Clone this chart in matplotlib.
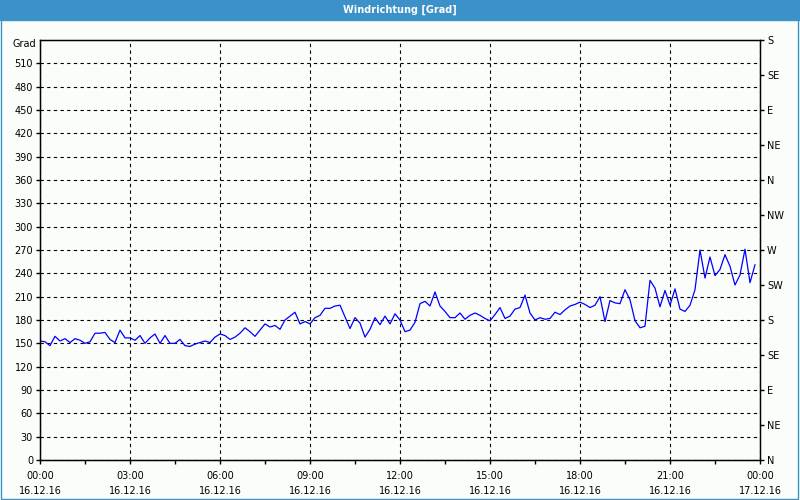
import numpy as np
import matplotlib
matplotlib.use("Agg")
import matplotlib.pyplot as plt
from matplotlib.ticker import MultipleLocator, FixedLocator

# ── Data: wind direction, 10-minute samples on 16.12.16 ─────────────────────
direction = [
    153, 152, 147, 159, 153, 156, 151, 156, 154, 150, 152, 163, 163, 164, 155, 151,
    167, 157, 157, 154, 160, 150, 157, 162, 150, 160, 150, 150, 155, 147, 146, 149,
    151, 153, 151, 158, 162, 160, 155, 158, 163, 170, 165, 159, 167, 175, 171, 173,
    168, 180, 185, 190, 175, 178, 175, 183, 186, 195, 195, 198, 199, 184, 169, 183,
    176, 158, 168, 183, 174, 185, 175, 188, 180, 165, 167, 177, 201, 204, 198, 216,
    198, 191, 183, 183, 189, 181, 186, 189, 186, 182, 179, 187, 196, 182, 185, 194,
    196, 212, 189, 180, 183, 181, 182, 190, 187, 193, 198, 200, 203, 200, 196, 199,
    210, 178, 205, 202, 201, 219, 206, 179, 170, 172, 231, 221, 197, 218, 199, 220,
    194, 191, 199, 219, 270, 234, 261, 237, 245, 264, 249, 225, 238, 271, 228, 251,
]
hours = np.arange(len(direction)) / 6.0

x_major = [0, 3, 6, 9, 12, 15, 18, 21, 24]
x_labels = ["00:00\n16.12.16", "03:00\n16.12.16", "06:00\n16.12.16",
            "09:00\n16.12.16", "12:00\n16.12.16", "15:00\n16.12.16",
            "18:00\n16.12.16", "21:00\n16.12.16", "00:00\n17.12.16"]
compass_labels = ["N", "NE", "E", "SE", "S", "SW", "W", "NW",
                  "N", "NE", "E", "SE", "S"]

BLUE_BAR = "#3c91c8"
BG = "#fbfdfb"

plt.rcParams["font.family"] = ["DejaVu Sans"]
plt.rcParams["font.size"] = 7

fig = plt.figure(figsize=(8, 5), dpi=100, facecolor=BG)

# title bar + window frame
fig.patches.append(plt.Rectangle((0, 0.96), 1, 0.04, transform=fig.transFigure,
                                 color=BLUE_BAR, zorder=0))
fig.patches.append(plt.Rectangle((0.001, 0.002), 0.997, 0.996, transform=fig.transFigure,
                                 fill=False, edgecolor=BLUE_BAR, lw=1, zorder=0))
fig.text(0.5, 0.98, "Windrichtung [Grad]", color="white", fontweight="bold",
         ha="center", va="center", fontsize=7)

ax = fig.add_axes([0.05, 0.08, 0.90, 0.84])
ax.set_facecolor(BG)
ax.plot(hours, direction, color="#0000ff", lw=0.9)

ax.set_xlim(0, 24)
ax.set_ylim(0, 540)

ax.xaxis.set_major_locator(FixedLocator(x_major))
ax.set_xticklabels(x_labels, linespacing=1.6)
ax.xaxis.set_minor_locator(MultipleLocator(1.5))
ax.yaxis.set_major_locator(FixedLocator(np.arange(0, 511, 30)))

ax.tick_params(axis="both", which="both", direction="out", length=3, width=1,
               colors="black", pad=2)
ax.tick_params(axis="x", which="major", pad=5)

ax.grid(True, which="major", color="black", linestyle=(0, (3, 3)), lw=0.8)
for sp in ax.spines.values():
    sp.set_color("black")
    sp.set_linewidth(1)

# right compass axis
ax2 = ax.twinx()
ax2.set_ylim(0, 540)
ax2.yaxis.set_major_locator(FixedLocator(np.arange(0, 541, 45)))
ax2.set_yticklabels(compass_labels)
ax2.tick_params(axis="y", direction="out", length=3, width=1, pad=2)

ax.text(-0.005, 0.99, "Grad", transform=ax.transAxes, ha="right", va="center")

fig.savefig("out.png", dpi=100, facecolor=BG)
